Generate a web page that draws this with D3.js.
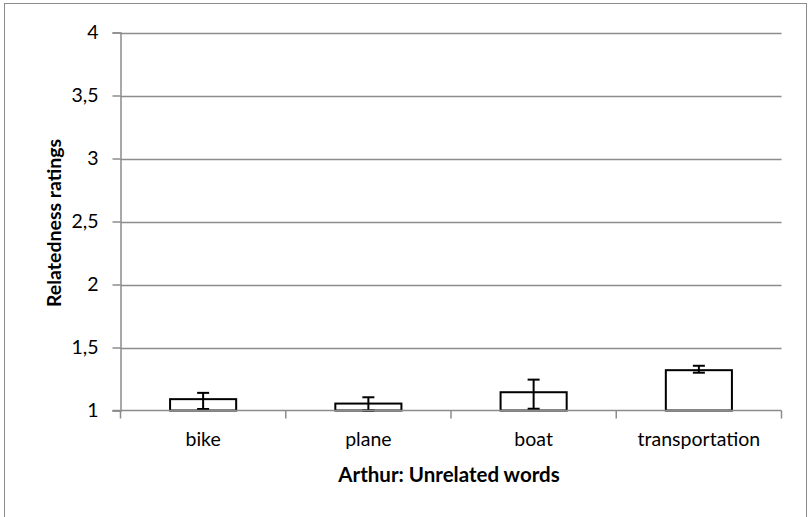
<!DOCTYPE html>
<html><head><meta charset="utf-8">
<script src="https://cdn.jsdelivr.net/npm/d3@7/dist/d3.min.js"></script>
<style>body{margin:0;background:#fff;} text{font-family:Lato,sans-serif;}</style>
</head><body>
<svg id="c" width="808" height="517"></svg>
<script>
const categories = ["bike", "plane", "boat", "transportation"];
const values = [1.09, 1.055, 1.145, 1.32];
const errLow = [1.012, 1.0, 1.014, 1.30];
const errHigh = [1.14, 1.105, 1.245, 1.355];
const yTicks = [1, 1.5, 2, 2.5, 3, 3.5, 4];
const yTickLabels = ["1", "1,5", "2", "2,5", "3", "3,5", "4"];
const xTitle = "Arthur: Unrelated words";
const yTitle = "Relatedness ratings";

const svg = d3.select("#c");
const m = {left: 120.5, right: 781.5, top: 32.5, bottom: 410.5};
const FS = 19.5;

svg.append("rect").attr("x", 4.5).attr("y", 3.5).attr("width", 802).attr("height", 520)
  .attr("fill", "#fff").attr("stroke", "#8c8c8c").attr("stroke-width", 1);

const x = d3.scaleBand().domain(categories).range([m.left, m.right]).paddingInner(0.6).paddingOuter(0.3);
const xb = d3.scaleBand().domain(categories).range([m.left, m.right]);
const y = d3.scaleLinear().domain([1, 4]).range([m.bottom, m.top]);

// gridlines
svg.append("g").selectAll("line").data(yTicks.slice(1)).join("line")
  .attr("x1", m.left).attr("x2", m.right)
  .attr("y1", d => Math.round(y(d)) + 0.5).attr("y2", d => Math.round(y(d)) + 0.5)
  .attr("stroke", "#8c8c8c").attr("stroke-width", 1.5);

// bars
svg.append("g").selectAll("rect").data(categories).join("rect")
  .attr("x", d => x(d)).attr("width", x.bandwidth())
  .attr("y", (d, i) => y(values[i])).attr("height", (d, i) => y(1) - y(values[i]))
  .attr("fill", "#fff").attr("stroke", "#000").attr("stroke-width", 2);

// error bars
const eg = svg.append("g").attr("stroke", "#000").attr("stroke-width", 2);
categories.forEach((c, i) => {
  const cx = x(c) + x.bandwidth() / 2;
  eg.append("line").attr("x1", cx).attr("x2", cx).attr("y1", y(errLow[i])).attr("y2", y(errHigh[i]));
  eg.append("line").attr("x1", cx - 6).attr("x2", cx + 6).attr("y1", y(errLow[i])).attr("y2", y(errLow[i]));
  eg.append("line").attr("x1", cx - 6).attr("x2", cx + 6).attr("y1", y(errHigh[i])).attr("y2", y(errHigh[i]));
});

// y axis
const ya = svg.append("g").attr("transform", `translate(${m.left},0)`)
  .call(d3.axisLeft(y).tickValues(yTicks).tickFormat((d, i) => yTickLabels[i]).tickSize(8).tickPadding(14));
ya.attr("font-family", null).attr("font-size", null);
ya.select(".domain").attr("stroke", "#8c8c8c").attr("stroke-width", 1.5);
ya.selectAll(".tick line").attr("stroke", "#8c8c8c").attr("stroke-width", 1.5);
ya.selectAll("text").style("font-size", FS + "px").attr("fill", "#000");

// x axis
const xa = svg.append("g").attr("transform", `translate(0,${m.bottom})`)
  .call(d3.axisBottom(xb).tickSize(0).tickPadding(22));
xa.attr("font-family", null).attr("font-size", null);
xa.select(".domain").remove();
xa.selectAll("text").style("font-size", FS + "px").attr("fill", "#000");
svg.append("line").attr("x1", m.left - 8).attr("x2", m.right).attr("y1", m.bottom).attr("y2", m.bottom)
  .attr("stroke", "#8c8c8c").attr("stroke-width", 1.5);
svg.append("g").selectAll("line").data(d3.range(categories.length + 1)).join("line")
  .attr("x1", d => m.left + d * xb.step()).attr("x2", d => m.left + d * xb.step())
  .attr("y1", m.bottom).attr("y2", m.bottom + 8)
  .attr("stroke", "#8c8c8c").attr("stroke-width", 1.5);

svg.append("text").attr("x", 449).attr("y", 482).attr("text-anchor", "middle")
  .style("font-size", "20.5px").attr("font-weight", "bold").text(xTitle);
svg.append("text").attr("transform", "translate(61,223) rotate(-90)").attr("text-anchor", "middle")
  .style("font-size", "19.5px").attr("font-weight", "bold").text(yTitle);
</script>
</body></html>
